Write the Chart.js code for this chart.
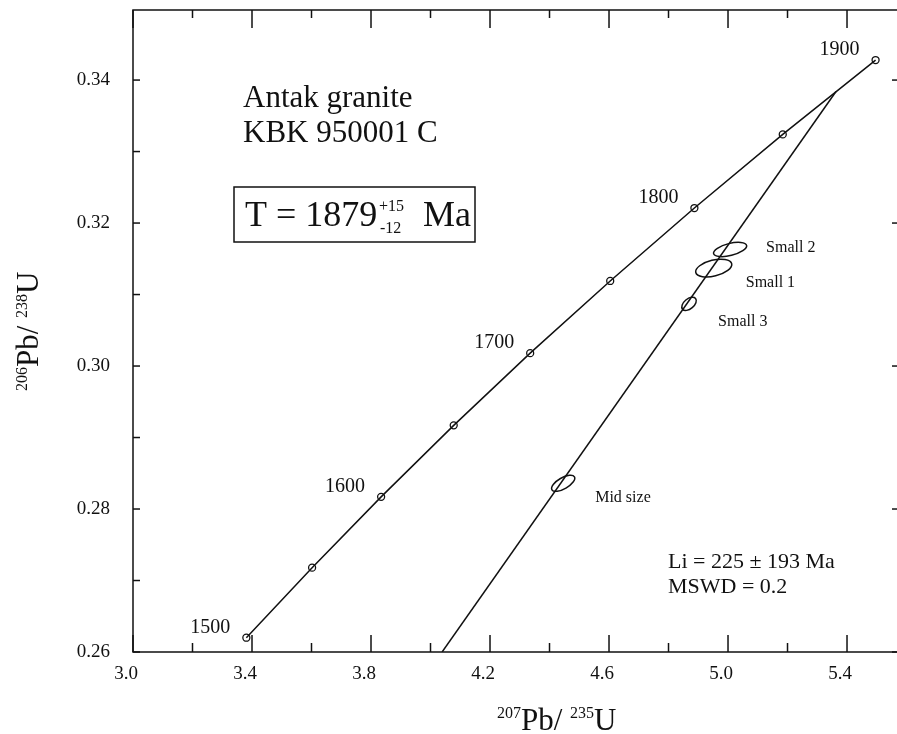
<!DOCTYPE html>
<html>
<head>
<meta charset="utf-8">
<title>Antak granite - concordia</title>
<script src="https://cdn.jsdelivr.net/npm/chart.js@4.4.0/dist/chart.umd.min.js"></script>
<style>
  html, body { margin: 0; padding: 0; background: #fff; }
  #wrap { width: 897px; height: 734px; position: relative; }
</style>
</head>
<body>
<div id="wrap"><canvas id="chart"></canvas></div>
<script>
// Concordia points, every 50 Ma
const concordiaAges = [1500, 1550, 1600, 1650, 1700, 1750, 1800, 1850, 1900];
const concordiaX = [3.381, 3.602, 3.834, 4.078, 4.335, 4.604, 4.887, 5.184, 5.496];
const concordiaY = [0.2620, 0.2718, 0.2817, 0.2917, 0.3018, 0.3119, 0.3221, 0.3324, 0.3428];
const ageLabels = ['1500', '', '1600', '', '1700', '', '1800', '', '1900'];

// Discordia: from the x axis up to the upper intercept (1879 Ma)
const discordiaX = [4.039, 5.363];
const discordiaY = [0.2600, 0.3384];

// Error ellipses (centre, half extents, correlation)
const ellipseNames = ['Small 2', 'Small 1', 'Small 3', 'Mid size'];
const ellipseX = [5.007, 4.952, 4.869, 4.446];
const ellipseY = [0.3163, 0.3137, 0.3087, 0.2836];
const ellipseErrX = [0.0557, 0.0607, 0.0244, 0.0390];
const ellipseErrY = [0.00100, 0.00125, 0.00093, 0.00113];
const ellipseRho = [0.50, 0.40, 0.48, 0.64];

const xTickLabels = ['3.0', '3.4', '3.8', '4.2', '4.6', '5.0', '5.4'];
const yTickLabels = ['0.26', '0.28', '0.30', '0.32', '0.34'];

const SERIF = '"Liberation Serif", "DejaVu Serif", serif';
const INK = '#111';

// where the ellipse names sit, relative to the ellipse centre (px)
const ellipseLabelOffset = [[36, 3], [32, 19], [29, 22], [32, 19]];

function drawLine(ctx, x1, y1, x2, y2) {
    ctx.beginPath();
    ctx.moveTo(x1, y1);
    ctx.lineTo(x2, y2);
    ctx.stroke();
}

// draws a run of [text, size, raise] pieces starting at x, y
function drawRich(ctx, parts, x, y) {
    parts.forEach(([text, size, raise]) => {
        ctx.font = size + 'px ' + SERIF;
        ctx.fillText(text, x, y - raise);
        x += ctx.measureText(text).width;
    });
}

const framePlugin = {
    id: 'frame',
    afterDraw(chart) {
        const { ctx, chartArea: a, scales: { x, y } } = chart;
        ctx.save();
        ctx.strokeStyle = INK;
        ctx.lineWidth = 1.5;
        ctx.beginPath();
        ctx.moveTo(a.right, a.top);
        ctx.lineTo(a.left, a.top);
        ctx.lineTo(a.left, a.bottom);
        ctx.lineTo(a.right, a.bottom);
        ctx.stroke();

        x.ticks.forEach(t => {
            const px = x.getPixelForValue(t.value);
            const major = xTickLabels.includes(t.value.toFixed(1));
            drawLine(ctx, px, a.bottom, px, a.bottom - (major ? 17 : 9));
            drawLine(ctx, px, a.top, px, a.top + (major ? 18 : 8));
        });
        y.ticks.forEach(t => {
            const py = y.getPixelForValue(t.value);
            const major = yTickLabels.includes(t.value.toFixed(2));
            drawLine(ctx, a.left, py, a.left + 7, py);
            if (major) drawLine(ctx, a.right - 5, py, a.right, py);
        });

        // axis titles with superscript mass numbers
        ctx.fillStyle = INK;
        ctx.textAlign = 'left';
        ctx.textBaseline = 'alphabetic';
        drawRich(ctx, [['207', 16, 12], ['Pb/ ', 31, 0], ['235', 16, 12], ['U', 31, 0]], 497, 730);
        ctx.save();
        ctx.translate(38, 391);
        ctx.rotate(-Math.PI / 2);
        drawRich(ctx, [['206', 16, 11], ['Pb/ ', 31, 0], ['238', 16, 11], ['U', 31, 0]], 0, 0);
        ctx.restore();

        // sample annotation
        ctx.font = '31px ' + SERIF;
        ctx.fillText('Antak granite', 243, 107);
        ctx.fillText('KBK 950001 C', 243, 142);

        ctx.strokeRect(234, 187, 241, 55);
        ctx.font = '36px ' + SERIF;
        ctx.fillText('T = 1879', 245, 226);
        ctx.fillText('Ma', 423, 226);
        ctx.font = '16px ' + SERIF;
        ctx.fillText('+15', 379, 211);
        ctx.fillText('-12', 380, 233);

        ctx.font = '22px ' + SERIF;
        ctx.fillText('Li = 225 \u00B1 193 Ma', 668, 568);
        ctx.fillText('MSWD = 0.2', 668, 593);
        ctx.restore();
    }
};

const markPlugin = {
    id: 'marks',
    afterDatasetsDraw(chart) {
        const { ctx, scales: { x, y } } = chart;
        ctx.save();
        ctx.strokeStyle = INK;
        ctx.fillStyle = INK;
        ctx.lineWidth = 1.5;

        ellipseX.forEach((ex, i) => {
            const cx = x.getPixelForValue(ex);
            const cy = y.getPixelForValue(ellipseY[i]);
            const hx = Math.abs(x.getPixelForValue(ex + ellipseErrX[i]) - cx);
            const hy = Math.abs(y.getPixelForValue(ellipseY[i] + ellipseErrY[i]) - cy);
            const c = -ellipseRho[i] * hx * hy; // screen y points down
            const m = (hx * hx + hy * hy) / 2;
            const d = Math.sqrt(Math.pow((hx * hx - hy * hy) / 2, 2) + c * c);
            const ang = 0.5 * Math.atan2(2 * c, hx * hx - hy * hy);
            ctx.beginPath();
            ctx.ellipse(cx, cy, Math.sqrt(m + d), Math.sqrt(Math.max(m - d, 0.5)), ang, 0, 2 * Math.PI);
            ctx.stroke();

            ctx.font = '16px ' + SERIF;
            ctx.textAlign = 'left';
            ctx.textBaseline = 'alphabetic';
            const [ox, oy] = ellipseLabelOffset[i];
            ctx.fillText(ellipseNames[i], cx + ox, cy + oy);
        });

        // age labels next to the concordia points
        ctx.font = '20px ' + SERIF;
        ctx.textAlign = 'center';
        ctx.textBaseline = 'middle';
        concordiaX.forEach((cxv, i) => {
            if (!ageLabels[i]) return;
            const px = x.getPixelForValue(cxv);
            const py = y.getPixelForValue(concordiaY[i]);
            ctx.fillText(ageLabels[i], px - 36, py - 10);
        });
        ctx.restore();
    }
};

const tickFont = { family: SERIF, size: 19 };

new Chart(document.getElementById('chart'), {
    type: 'scatter',
    data: {
        datasets: [
            {
                label: 'Concordia',
                data: concordiaX.map((v, i) => ({ x: v, y: concordiaY[i] })),
                showLine: true,
                borderColor: INK,
                borderWidth: 1.5,
                tension: 0,
                pointRadius: 3.5,
                pointBorderWidth: 1.3,
                pointBorderColor: INK,
                pointBackgroundColor: 'rgba(0,0,0,0)'
            },
            {
                label: 'Discordia',
                data: discordiaX.map((v, i) => ({ x: v, y: discordiaY[i] })),
                showLine: true,
                borderColor: INK,
                borderWidth: 1.5,
                pointRadius: 0
            }
        ]
    },
    options: {
        responsive: true,
        maintainAspectRatio: false,
        animation: false,
        layout: { autoPadding: false, padding: { top: 10, right: 0, bottom: 0, left: 0 } },
        plugins: {
            legend: { display: false },
            tooltip: { enabled: false }
        },
        scales: {
            x: {
                type: 'linear',
                min: 3.0,
                max: 5.568,
                grid: { display: false, drawTicks: false },
                border: { display: false },
                ticks: {
                    stepSize: 0.2,
                    includeBounds: false,
                    autoSkip: false,
                    maxRotation: 0,
                    labelOffset: -7,
                    padding: 11,
                    color: INK,
                    font: tickFont,
                    callback: v => {
                        const s = Number(v).toFixed(1);
                        return xTickLabels.includes(s) ? s : '';
                    }
                },
                afterFit: s => {
                    s.height = 82;
                    s.paddingLeft = 0;
                    s.paddingRight = 0;
                }
            },
            y: {
                type: 'linear',
                min: 0.26,
                max: 0.3498,
                grid: { display: false, drawTicks: false },
                border: { display: false },
                ticks: {
                    stepSize: 0.01,
                    includeBounds: false,
                    autoSkip: false,
                    padding: 23,
                    color: INK,
                    font: tickFont,
                    callback: v => {
                        const s = Number(v).toFixed(2);
                        return yTickLabels.includes(s) ? s : '';
                    }
                },
                afterFit: s => {
                    s.width = 133;
                    s.paddingTop = 0;
                    s.paddingBottom = 0;
                }
            }
        }
    },
    plugins: [framePlugin, markPlugin]
});
</script>
</body>
</html>
